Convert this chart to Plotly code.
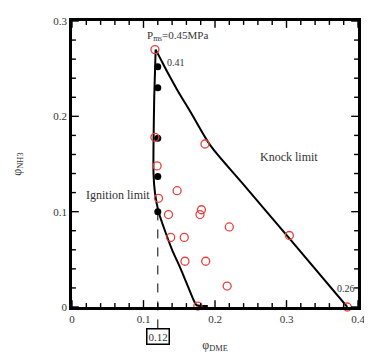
import numpy as np
import plotly.graph_objects as go

# Data
red_x = [0.116, 0.116, 0.119, 0.121, 0.147, 0.135, 0.186, 0.181, 0.179, 0.220,
         0.138, 0.157, 0.158, 0.187, 0.217, 0.304, 0.176, 0.385]
red_y = [0.270, 0.178, 0.148, 0.114, 0.122, 0.097, 0.171, 0.102, 0.097, 0.084,
         0.073, 0.073, 0.048, 0.048, 0.022, 0.075, 0.001, 0.000]

black_x = [0.120, 0.120, 0.120, 0.120, 0.120]
black_y = [0.252, 0.230, 0.177, 0.137, 0.100]

ign_x = [0.117, 0.115, 0.114, 0.114, 0.116, 0.121, 0.130, 0.140, 0.152, 0.163, 0.174, 0.190]
ign_y = [0.270, 0.220, 0.170, 0.140, 0.120, 0.100, 0.080, 0.060, 0.040, 0.020, 0.002, 0.001]

knock_x = [0.117, 0.124, 0.133, 0.147, 0.167, 0.194, 0.237, 0.304, 0.385]
knock_y = [0.270, 0.260, 0.247, 0.228, 0.203, 0.169, 0.131, 0.072, 0.000]

x_tickvals = [0, 0.1, 0.2, 0.3, 0.4]
y_tickvals = [0, 0.1, 0.2, 0.3]
x_range = [0, 0.4]
y_range = [0, 0.3]
minor_dtick = 0.02

phi_marker = 0.12
phi_marker_y = 0.1

FONT = "Liberation Serif"
TXT = "#333333"

W, H = 364, 352
M = dict(l=62, r=9, t=7, b=53)
pw = W - M["l"] - M["r"]
ph = H - M["t"] - M["b"]

fig = go.Figure()
fig.add_trace(go.Scatter(x=ign_x, y=ign_y, mode="lines",
                         line=dict(color="black", width=2, shape="spline", smoothing=0.5),
                         showlegend=False, hoverinfo="skip"))
fig.add_trace(go.Scatter(x=knock_x, y=knock_y, mode="lines",
                         line=dict(color="black", width=2, shape="spline", smoothing=0.8),
                         showlegend=False, hoverinfo="skip"))
fig.add_trace(go.Scatter(x=black_x, y=black_y, mode="markers",
                         marker=dict(color="black", size=7),
                         showlegend=False, cliponaxis=False))
fig.add_trace(go.Scatter(x=red_x, y=red_y, mode="markers",
                         marker=dict(symbol="circle-open", color="#e8413c", size=8,
                                     line=dict(width=1.3)),
                         showlegend=False, cliponaxis=False))

fig.update_xaxes(range=x_range, tickmode="array", tickvals=x_tickvals,
                 showgrid=False, zeroline=False, showline=True, linecolor="black",
                 linewidth=2.5, mirror=True, ticks="",
                 tickfont=dict(family=FONT, size=11, color=TXT),
                 title=dict(text="φ<sub>DME</sub>", font=dict(family=FONT, size=12, color=TXT),
                            standoff=17))
fig.update_yaxes(range=y_range, tickmode="array", tickvals=y_tickvals,
                 showgrid=False, zeroline=False, showline=True, linecolor="black",
                 linewidth=2.5, mirror=True, ticks="",
                 tickfont=dict(family=FONT, size=11, color=TXT),
                 title=dict(text="φ<sub>NH3</sub>", font=dict(family=FONT, size=12, color=TXT),
                            standoff=30))

# inside tick marks on all four sides, drawn as shapes (major 7 px, minor 4 px)
xminor = np.round(np.arange(x_range[0], x_range[1] + 1e-9, minor_dtick), 3)
yminor = np.round(np.arange(y_range[0], y_range[1] + 1e-9, minor_dtick), 3)
tick_line = dict(color="black", width=1.4)
for v in xminor:
    L = 7 if any(abs(v - t) < 1e-9 for t in x_tickvals) else 4
    f = L / ph
    fig.add_shape(type="line", xref="x", yref="y domain", x0=v, x1=v, y0=0, y1=f,
                  line=tick_line)
    fig.add_shape(type="line", xref="x", yref="y domain", x0=v, x1=v, y0=1, y1=1 - f,
                  line=tick_line)
for v in yminor:
    L = 7 if any(abs(v - t) < 1e-9 for t in y_tickvals) else 4
    f = L / pw
    fig.add_shape(type="line", xref="x domain", yref="y", x0=0, x1=f, y0=v, y1=v,
                  line=tick_line)
    fig.add_shape(type="line", xref="x domain", yref="y", x0=1, x1=1 - f, y0=v, y1=v,
                  line=tick_line)

# dashed marker line down to the boxed value
fig.add_shape(type="line", xref="x", yref="paper", x0=phi_marker, x1=phi_marker,
              y0=-0.075, y1=phi_marker_y / (y_range[1] - y_range[0]),
              line=dict(color="black", width=1, dash="dash"))

ann = [
    dict(x=0.148, y=0.284, text="P<sub>ms</sub>=0.45MPa", size=11),
    dict(x=0.146, y=0.256, text="0.41", size=10),
    dict(x=0.383, y=0.019, text="0.26", size=10),
    dict(x=0.304, y=0.157, text="Knock limit", size=12),
    dict(x=0.064, y=0.118, text="Ignition limit", size=12),
]
for a in ann:
    fig.add_annotation(x=a["x"], y=a["y"], xref="x", yref="y", text=a["text"],
                       showarrow=False, font=dict(family=FONT, size=a["size"], color=TXT))

fig.add_annotation(x=phi_marker, y=-0.075, xref="x", yref="paper", yanchor="top",
                   text="0.12", showarrow=False, bordercolor="black", borderwidth=1.5,
                   borderpad=1, font=dict(family=FONT, size=11, color=TXT))

fig.update_layout(width=W, height=H, margin=M,
                  plot_bgcolor="white", paper_bgcolor="white")

fig.write_html("out.html")
